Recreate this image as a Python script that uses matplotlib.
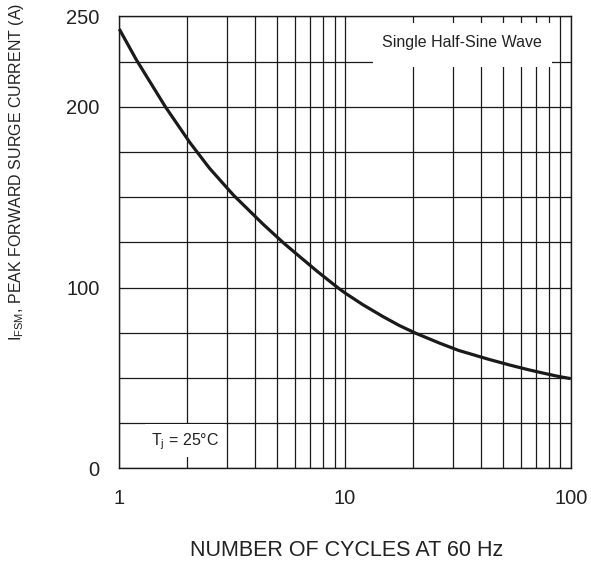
import matplotlib
matplotlib.use("Agg")
import matplotlib.pyplot as plt
from matplotlib.ticker import FixedLocator, NullFormatter
from matplotlib.patches import Rectangle

plt.rcParams['font.family'] = ['Liberation Sans', 'DejaVu Sans']
plt.rcParams['mathtext.fontset'] = 'custom'
plt.rcParams['mathtext.rm'] = 'Liberation Sans'
plt.rcParams['mathtext.it'] = 'Liberation Sans'

# data
cycles = [1, 1.19, 1.6, 2.06, 2.51, 3.2, 4.34, 5.36, 6.48, 7.56, 9.32, 10,
          12.0, 14.7, 17.4, 20.6, 26.3, 31.9, 43.3, 53.8, 65.1, 75.9, 86.9, 100]
current = [243, 226, 200, 180, 166, 151.2, 135, 124.5, 115.8, 108.8, 99.8, 97,
           90.5, 84, 79, 74.7, 69.2, 65.2, 60.3, 57.1, 54.5, 52.6, 51.0, 49.6]

x_major = [1, 10, 100]
x_labels = ['1', '10', '100']
x_minor = [2, 3, 4, 5, 6, 7, 8, 9, 20, 30, 40, 50, 60, 70, 80, 90]
y_major = [0, 100, 200, 250]
y_labels = ['0', '100', '200', '250']
y_minor = [25, 50, 75, 125, 150, 175, 225]

W, H = 591, 565
fig = plt.figure(figsize=(W / 100, H / 100), dpi=100)
ax = fig.add_axes([119.3 / W, 1 - 468.3 / H, 451.4 / W, 451.9 / H])

ax.set_xscale('log')
ax.set_xlim(1, 100)
ax.set_ylim(0, 250)

ax.xaxis.set_major_locator(FixedLocator(x_major))
ax.set_xticks(x_major)
ax.set_xticklabels(x_labels)
ax.xaxis.set_minor_locator(FixedLocator(x_minor))
ax.xaxis.set_minor_formatter(NullFormatter())
ax.set_yticks(y_major)
ax.set_yticklabels(y_labels)
ax.yaxis.set_minor_locator(FixedLocator(y_minor))

gridc = '#1a1a1a'
ax.grid(True, which='both', color=gridc, linewidth=0.9, zorder=1)
ax.set_axisbelow(True)
ax.tick_params(which='both', length=0)
ax.tick_params(axis='x', pad=15, labelsize=14.5, colors='#222222')
ax.tick_params(axis='y', pad=14, labelsize=14.5, colors='#222222')
for s in ax.spines.values():
    s.set_color(gridc)
    s.set_linewidth(1.0)

ax.plot(cycles, current, color='#1a1a1a', linewidth=2.3, zorder=5,
        solid_capstyle='butt', solid_joinstyle='round', clip_on=False)

# annotation boxes
ax.add_patch(Rectangle((0.562, 0.888), 0.3966, 0.097, transform=ax.transAxes,
                       facecolor='white', edgecolor='none', zorder=3))
ax.text(0.759, 0.943, 'Single Half-Sine Wave', transform=ax.transAxes,
        ha='center', va='center', fontsize=11.5, color='#222222', zorder=4)

ax.add_patch(Rectangle((0.057, 0.025), 0.177, 0.073, transform=ax.transAxes,
                       facecolor='white', edgecolor='none', zorder=3))
ax.text(0.146, 0.059, r'T$_\mathrm{j}$ = 25°C', transform=ax.transAxes,
        ha='center', va='center', fontsize=11.5, color='#222222', zorder=4)

fig.text(347 / W, 1 - 550.5 / H, 'NUMBER OF CYCLES AT 60 Hz',
         ha='center', va='center', fontsize=15.5, color='#222222')
fig.text(17 / W, 1 - 172 / H,
         r'I$_\mathrm{FSM}$, PEAK FORWARD SURGE CURRENT (A)',
         ha='center', va='center', rotation=90, fontsize=11.5, color='#222222')

fig.savefig('out.png', dpi=100, facecolor='white')
